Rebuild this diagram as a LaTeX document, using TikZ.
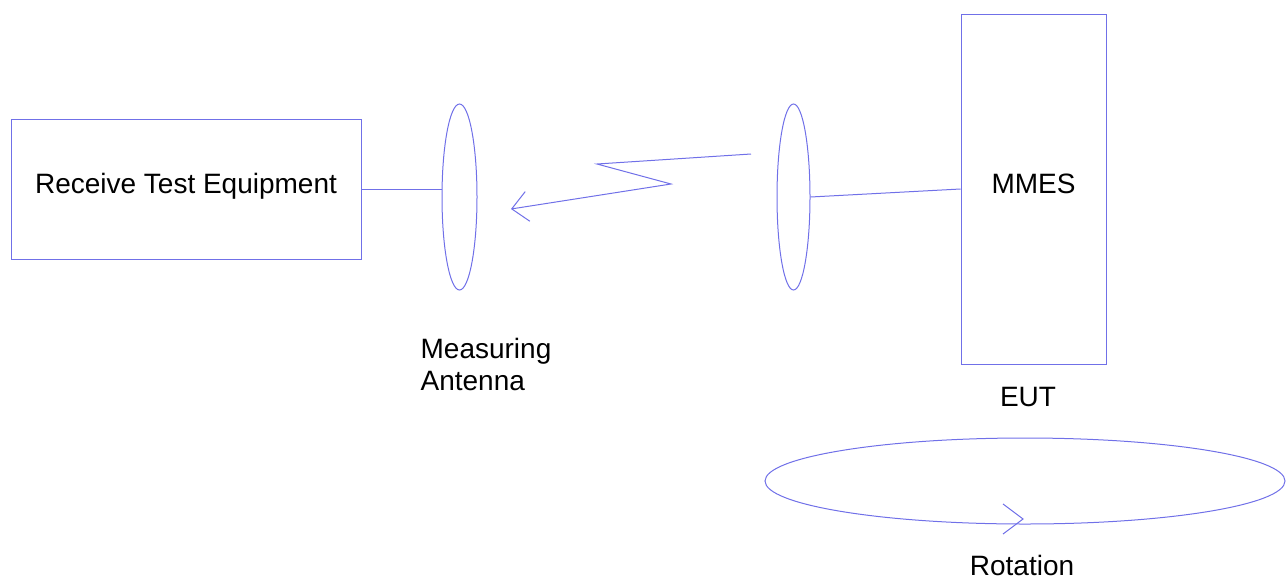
\documentclass[tikz,border=0pt]{standalone}
\usepackage{fontspec}
\setmainfont{Liberation Sans}
\usetikzlibrary{arrows.meta,shapes.geometric}
\definecolor{linkblue}{RGB}{112,112,232}

\begin{document}
\begin{tikzpicture}[x=1pt,y=-1pt,
    every node/.style={font=\fontsize{28}{32}\selectfont},
    box/.style={draw=linkblue,line width=1pt,inner sep=0pt,text height=20pt,text depth=12pt},
    antenna/.style={draw=linkblue,line width=1pt,ellipse,inner sep=0pt,minimum height=186pt},
    wire/.style={draw=linkblue,line width=1pt}
]

% Frame
\useasboundingbox (0,0) rectangle (1287,579);

% Receive side
\node[box,minimum width=350pt,minimum height=140pt] (rte) at (186,189) {Receive Test Equipment};
\node[antenna,minimum width=35pt] (meas) at (459.5,197) {};
\draw[wire] (rte.east) -- (rte.east -| meas.west);

% EUT side
\node[box,minimum width=145pt,minimum height=350pt] (mmes) at (1033.5,189) {MMES};
\node[antenna,minimum width=33pt] (tx) at (793.5,197) {};
\draw[wire] (tx.east) -- (mmes.west);

% Radiated link
\coordinate (zstart) at (751,154);
\coordinate (zend) at (511,209);
\draw[wire,-{Straight Barb[length=16pt,width=30pt]}] (zstart) -- (597,164) -- (671,184) -- (zend);

% Labels
\node[align=left] (measlbl) at (486,364) {Measuring\\Antenna};
\node (eut) at (1028,397) {EUT};

% Rotation
\node[draw=linkblue,line width=1pt,ellipse,inner sep=0pt,minimum width=520pt,minimum height=86pt] (turn) at (1025,481) {};
\draw[wire] (1003,504) -- (1023,519) -- (1003,534);
\node[inner sep=1pt] (rotlbl) at (1022,565) {Rotation};

\end{tikzpicture}
\end{document}
